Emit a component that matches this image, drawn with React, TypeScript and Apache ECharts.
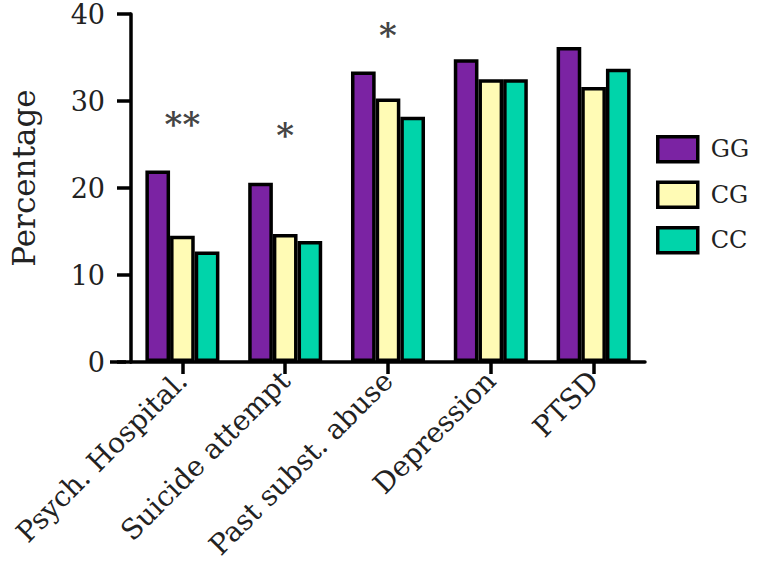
import React, { useEffect, useRef } from "react";
import * as echarts from "echarts";

const categories = ["Psych. Hospital.", "Suicide attempt", "Past subst. abuse", "Depression", "PTSD"];
const seriesNames = ["GG", "CG", "CC"];
const ggValues = [22.0, 20.6, 33.4, 34.8, 36.2];
const cgValues = [14.5, 14.7, 30.3, 32.5, 31.6];
const ccValues = [12.7, 13.9, 28.2, 32.5, 33.7];
const seriesColors = ["#7B23A3", "#FFFBB5", "#00D4AA"];
const annotationCategories = ["Psych. Hospital.", "Suicide attempt", "Past subst. abuse"];
const annotationTexts = ["**", "*", "*"];
const annotationY = [27.4, 26.1, 37.6];
const yTicks = [0, 10, 20, 30, 40];

const FONT = "DejaVu Serif";

export default function App() {
  const ref = useRef<HTMLDivElement>(null);
  useEffect(() => {
    document.body.style.margin = "0";
    if (!ref.current) return;
    const chart = echarts.init(ref.current, null, { renderer: "svg" });
    const values = [ggValues, cgValues, ccValues];
    const barSeries = seriesNames.map((name, i) => ({
      name,
      type: "bar",
      data: values[i],
      barGap: "0%",
      barCategoryGap: "28%",
      itemStyle: { color: seriesColors[i], borderColor: "#000", borderWidth: 3.5 },
    }));
    chart.setOption({
      animation: false,
      backgroundColor: "#fff",
      grid: { left: 124, top: 14, width: 521, height: 348, containLabel: false },
      graphic: [
        {
          type: "line",
          shape: { x1: 110, y1: 362, x2: 126, y2: 362 },
          style: { stroke: "#000", lineWidth: 3.5 },
        },
      ],
      legend: {
        orient: "vertical",
        left: 651,
        top: 130,
        itemWidth: 40,
        itemHeight: 25,
        itemGap: 17,
        icon: "rect",
        data: seriesNames,
        textStyle: { fontFamily: FONT, fontSize: 24, color: "#222", padding: [0, 0, 0, 8] },
        itemStyle: { borderColor: "#000", borderWidth: 3.5 },
      },
      xAxis: {
        type: "category",
        data: categories,
        axisLine: { show: true, lineStyle: { color: "#000", width: 3.5 } },
        axisTick: { show: true, alignWithLabel: true, length: 12, lineStyle: { color: "#000", width: 3.5 } },
        axisLabel: {
          rotate: 45,
          interval: 0,
          margin: 14,
          fontFamily: FONT,
          fontSize: 28,
          color: "#222",
        },
      },
      yAxis: {
        type: "value",
        min: 0,
        max: 40,
        interval: 10,
        name: "Percentage",
        nameLocation: "middle",
        nameGap: 92,
        nameTextStyle: { fontFamily: FONT, fontSize: 31, color: "#222", padding: [0, 0, 0, 20] },
        splitLine: { show: false },
        axisLine: { show: true, lineStyle: { color: "#000", width: 3.5 } },
        axisTick: { show: true, length: 14, lineStyle: { color: "#000", width: 3.5 } },
        axisLabel: {
          fontFamily: FONT,
          fontSize: 27,
          color: "#222",
          margin: 26,
          formatter: (v: number) => (yTicks.includes(v) ? String(v) : ""),
        },
      },
      series: [
        ...barSeries,
        {
          type: "scatter",
          symbolSize: 0,
          silent: true,
          data: annotationCategories.map((c, i) => ({ value: [c, annotationY[i]], name: annotationTexts[i] })),
          label: {
            show: true,
            position: "inside",
            formatter: (p: any) => p.name,
            fontFamily: FONT,
            fontSize: 34,
            fontWeight: "bold",
            color: "#111",
          },
        },
      ],
    });
    return () => chart.dispose();
  }, []);
  return <div ref={ref} style={{ width: 758, height: 576 }} />;
}
